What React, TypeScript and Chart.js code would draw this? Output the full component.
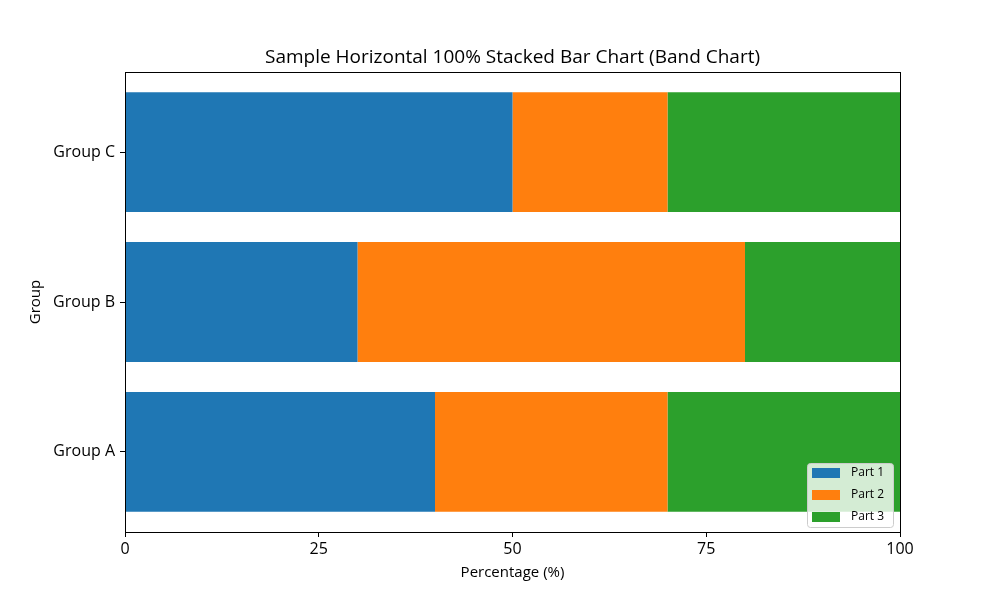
import React, { useEffect, useRef } from "react";
import { Chart, registerables } from "chart.js";

Chart.register(...registerables);

const groups = ["Group A", "Group B", "Group C"];
const part1 = [40, 30, 50];
const part2 = [30, 50, 20];
const part3 = [30, 20, 30];
const seriesNames = ["Part 1", "Part 2", "Part 3"];
const seriesColors = ["#1f77b4", "#ff7f0e", "#2ca02c"];
const xTicks = [0, 25, 50, 75, 100];
const titleText = "Sample Horizontal 100% Stacked Bar Chart (Band Chart)";

const FONT = "'Open Sans', 'DejaVu Sans', sans-serif";

const framePlugin = {
  id: "frameAndLegend",
  afterDraw(chart: any) {
    const { ctx, chartArea } = chart;
    ctx.save();
    // title centred over plot area
    ctx.font = `19px ${FONT}`;
    ctx.fillStyle = "#000";
    ctx.textAlign = "center";
    ctx.textBaseline = "middle";
    ctx.fillText(titleText, (chartArea.left + chartArea.right) / 2, chartArea.top - 14);
    // spines
    ctx.strokeStyle = "#000";
    ctx.lineWidth = 1;
    ctx.strokeRect(
      Math.round(chartArea.left) + 0.5,
      Math.round(chartArea.top) + 0.5,
      Math.round(chartArea.right - chartArea.left),
      Math.round(chartArea.bottom - chartArea.top)
    );
    // legend box (lower right, inside plot)
    const w = 86;
    const h = 64;
    const x = chartArea.right - 7 - w;
    const y = chartArea.bottom - 5 - h;
    ctx.beginPath();
    if ((ctx as any).roundRect) (ctx as any).roundRect(x + 0.5, y + 0.5, w, h, 3);
    else ctx.rect(x + 0.5, y + 0.5, w, h);
    ctx.fillStyle = "rgba(255,255,255,0.8)";
    ctx.fill();
    ctx.strokeStyle = "#cccccc";
    ctx.stroke();
    ctx.font = `12px ${FONT}`;
    ctx.textBaseline = "middle";
    ctx.textAlign = "left";
    seriesNames.forEach((name, i) => {
      const cy = y + 10 + i * 22;
      ctx.fillStyle = seriesColors[i];
      ctx.fillRect(x + 5, cy - 5, 28, 10);
      ctx.fillStyle = "#000";
      ctx.fillText(name, x + 44, cy);
    });
    ctx.restore();
  },
};

export default function App() {
  const ref = useRef<HTMLCanvasElement | null>(null);
  useEffect(() => {
    document.body.style.margin = "0";
    const values = [part1, part2, part3];
    const chart = new Chart(ref.current as HTMLCanvasElement, {
      type: "bar",
      data: {
        datasets: seriesNames.map((name, i) => ({
          label: name,
          data: groups.map((_, g) => ({ x: values[i][g], y: g })),
          backgroundColor: seriesColors[i],
          borderWidth: 0,
          barPercentage: 0.8,
          categoryPercentage: 1,
        })),
      },
      options: {
        indexAxis: "y",
        animation: false,
        responsive: false,
        layout: { padding: { left: 0, right: 100, top: 72, bottom: 0 } },
        plugins: {
          legend: { display: false },
          tooltip: { enabled: false },
          title: { display: false },
        },
        scales: {
          x: {
            type: "linear",
            stacked: true,
            min: 0,
            max: 100,
            afterBuildTicks: (scale: any) => {
              scale.ticks = xTicks.map((v) => ({ value: v }));
            },
            afterFit: (scale: any) => {
              scale.height = 68;
            },
            border: { display: false },
            grid: { drawOnChartArea: false, drawTicks: true, tickLength: 5, color: "#000" },
            ticks: {
              color: "#000",
              padding: 3,
              font: { family: FONT, size: 16 },
              maxRotation: 0,
            },
            title: {
              display: true,
              text: "Percentage (%)",
              color: "#000",
              font: { family: FONT, size: 15 },
              padding: { top: 18, bottom: 18 },
            },
          },
          y: {
            type: "linear",
            stacked: true,
            offset: false,
            min: -0.535,
            max: 2.535,
            afterBuildTicks: (scale: any) => {
              scale.ticks = groups.map((_, i) => ({ value: i }));
            },
            afterFit: (scale: any) => {
              scale.width = 125;
            },
            border: { display: false },
            grid: { offset: false, drawOnChartArea: false, drawTicks: true, tickLength: 5, color: "#000" },
            ticks: {
              color: "#000",
              padding: 5,
              font: { family: FONT, size: 16 },
              callback: (v: any) => groups[Math.round(Number(v))] ?? "",
            },
            title: {
              display: true,
              text: "Group",
              color: "#000",
              font: { family: FONT, size: 15 },
              padding: { top: 27, bottom: 27 },
            },
          },
        },
      },
      plugins: [framePlugin],
    } as any);
    return () => chart.destroy();
  }, []);
  return (
    <div style={{ position: "absolute", left: 0, top: 0, width: 1000, height: 600 }}>
      <canvas ref={ref} width={1000} height={600} style={{ width: 1000, height: 600 }} />
    </div>
  );
}
